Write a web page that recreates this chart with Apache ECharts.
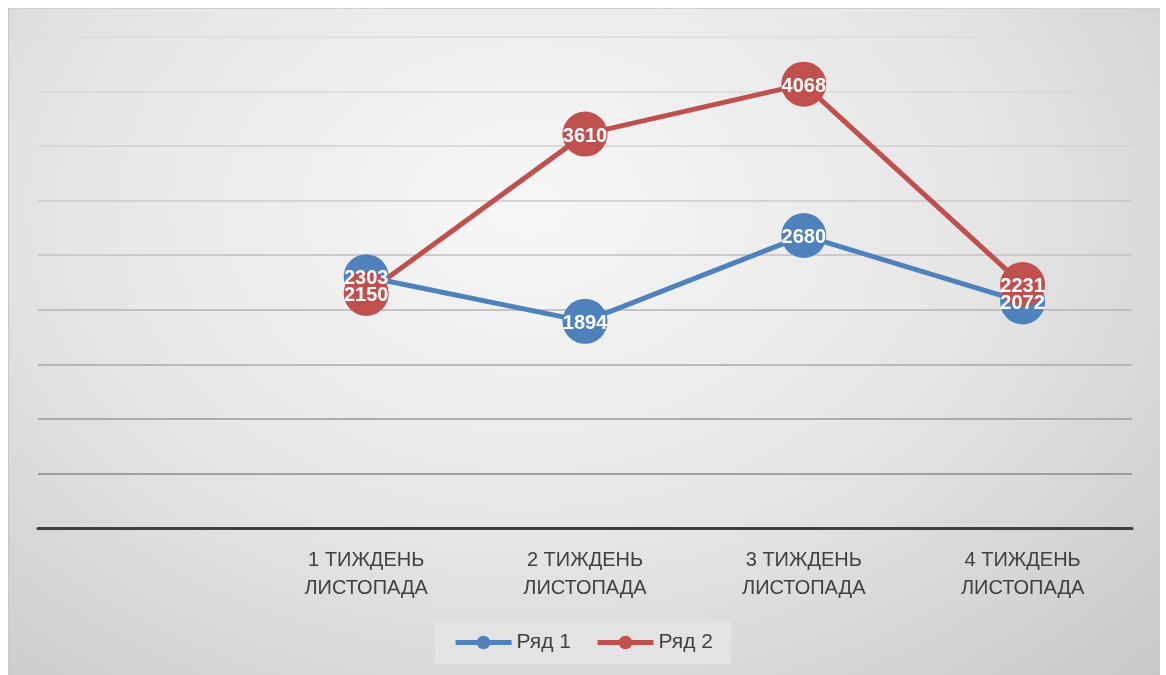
<!DOCTYPE html>
<html>
<head>
<meta charset="utf-8">
<script src="https://cdn.jsdelivr.net/npm/echarts@6/dist/echarts.min.js"></script>
<style>
  html, body { margin: 0; padding: 0; background: #ffffff; }
  #frame {
    position: absolute; left: 8px; top: 8px; width: 1152px; height: 667px;
    background: radial-gradient(ellipse at 45% 30%, #f7f7f7 0%, #e6e6e6 50%, #c8c8c8 100%);
    border-top: 1px solid #d0d0d0; border-left: 1px solid #c8c8c8;
    box-sizing: border-box;
  }
  #chart { position: absolute; left: 0; top: 0; width: 1166px; height: 675px; }
</style>
</head>
<body>
<div id="frame"></div>
<div id="chart"></div>
<script>
// категорії (перша порожня, як в оригіналі)
var categories = ['', '1 ТИЖДЕНЬ\nЛИСТОПАДА', '2 ТИЖДЕНЬ\nЛИСТОПАДА', '3 ТИЖДЕНЬ\nЛИСТОПАДА', '4 ТИЖДЕНЬ\nЛИСТОПАДА']
var seriesNames = ['Ряд 1', 'Ряд 2']
var row1 = [null, 2303, 1894, 2680, 2072]
var row2 = [null, 2150, 3610, 4068, 2231]
var yMin = 0
var yMax = 4500
var yStep = 500

var font = 'Liberation Sans'
var chart = echarts.init(document.getElementById('chart'))

function lineSeries(name, data, color) {
  return {
    name: name,
    type: 'line',
    data: data,
    symbol: 'circle',
    symbolSize: 45,
    lineStyle: { color: color, width: 5 },
    itemStyle: { color: color },
    label: {
      show: true,
      position: 'inside',
      offset: [0, 2],
      color: '#ffffff',
      fontFamily: font,
      fontWeight: 'bold',
      fontSize: 20
    },
    emphasis: { disabled: true }
  }
}

chart.setOption({
  backgroundColor: 'transparent',
  animation: false,
  textStyle: { fontFamily: font },
  legend: {
    bottom: 11,
    left: 'center',
    padding: [11, 18, 11, 18],
    backgroundColor: '#e3e3e3',
    itemWidth: 56,
    itemHeight: 17,
    itemGap: 24,
    lineStyle: { width: 5 },
    textStyle: { color: '#404040', fontSize: 21, fontFamily: font },
    data: seriesNames
  },
  grid: { left: 38, right: 34, top: 37, bottom: 147 },
  xAxis: {
    type: 'category',
    data: categories,
    boundaryGap: true,
    axisLine: { lineStyle: { color: '#404040', width: 3 } },
    axisTick: { show: false },
    axisLabel: { color: '#404040', fontSize: 20, lineHeight: 28, margin: 18, interval: 0 }
  },
  yAxis: {
    type: 'value',
    min: yMin,
    max: yMax,
    interval: yStep,
    axisLine: { show: false },
    axisTick: { show: false },
    axisLabel: { show: false },
    splitLine: {
      lineStyle: {
        width: 1.5,
        color: ['#404040', '#8a8a8a', '#9a9a9a', '#a8a8a8', '#b4b4b4', '#c0c0c0', '#cacaca', '#d2d2d2', '#d8d8d8', '#dcdcdc']
      }
    }
  },
  series: [
    lineSeries(seriesNames[0], row1, '#4f81bd'),
    lineSeries(seriesNames[1], row2, '#c0504d')
  ]
})
</script>
</body>
</html>
